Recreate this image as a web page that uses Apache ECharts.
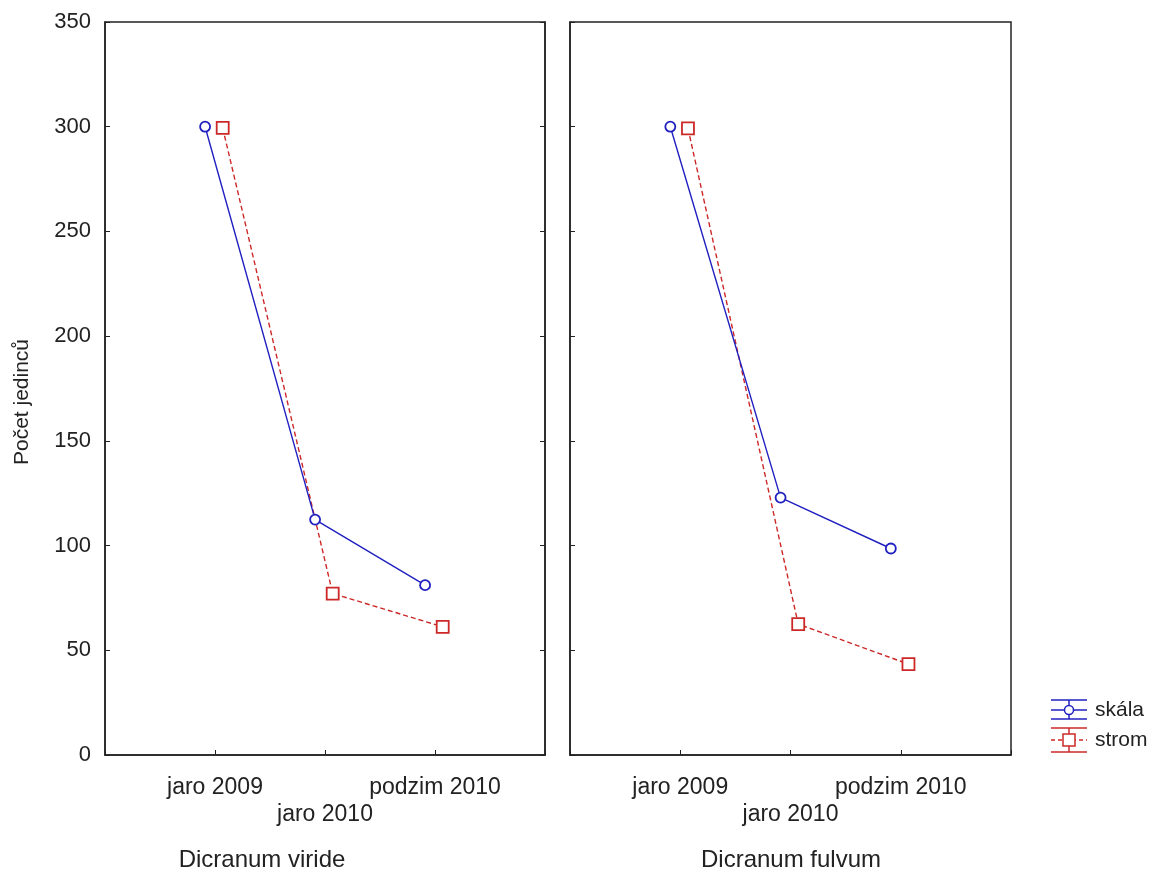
<!DOCTYPE html>
<html><head><meta charset="utf-8">
<script src="https://cdn.jsdelivr.net/npm/echarts@6/dist/echarts.min.js"></script>
<style>html,body{margin:0;padding:0;background:#fff}#c{width:1165px;height:877px}</style>
</head><body><div id="c"></div>
<script>
const categories = ['jaro 2009', 'jaro 2010', 'podzim 2010'];
const yTicks = [0, 50, 100, 150, 200, 250, 300, 350];
const panelTitles = ['Dicranum viride', 'Dicranum fulvum'];
const seriesNames = ['skála', 'strom'];
const viride_skala = [300, 112.4, 81.1];
const viride_strom = [299.4, 77.1, 61.2];
const fulvum_skala = [300, 122.9, 98.6];
const fulvum_strom = [299.2, 62.5, 43.4];

const FONT = '"Liberation Sans", Arial, sans-serif';
const BLUE = '#2020c0';
const RED = '#cc2828';
const offSkala = -0.09, offStrom = 0.07;

function pts(vals, off) { return vals.map((v, i) => [i + off, v]); }

const xLabel = {
  fontFamily: FONT, fontSize: 23, color: '#222', margin: 19, lineHeight: 27,
  formatter: function (v) {
    const i = Math.round(v);
    if (Math.abs(v - i) > 1e-6 || i < 0 || i >= categories.length) return '';
    return i % 2 === 1 ? '\n' + categories[i] : categories[i];
  }
};
function xAx(g) {
  return {
    type: 'value', gridIndex: g, min: -1, max: 3, interval: 1,
    axisLine: { show: true, onZero: false, lineStyle: { color: '#222', width: 1.5 } },
    axisTick: { show: true, inside: true, length: 5, lineStyle: { color: '#222' } },
    axisLabel: xLabel, splitLine: { show: false }
  };
}
function yAx(g, pos, labels) {
  return {
    type: 'value', gridIndex: g, position: pos, min: 0, max: 350, interval: 50,
    axisLine: { show: true, onZero: false, lineStyle: { color: '#222', width: 1.5 } },
    axisTick: { show: true, inside: true, length: 5, lineStyle: { color: '#222' } },
    axisLabel: { show: labels, fontFamily: FONT, fontSize: 22, color: '#222', margin: 14,
      formatter: function (v) { return yTicks.indexOf(v) >= 0 ? String(v) : ''; } },
    splitLine: { show: false }
  };
}
function lineSeries(name, data, xi, yi, isRed) {
  return {
    name: name, type: 'line', xAxisIndex: xi, yAxisIndex: yi, data: data,
    symbol: isRed ? 'rect' : 'circle', symbolSize: isRed ? 12 : 10,
    lineStyle: { color: isRed ? RED : BLUE, width: 1.4, type: isRed ? [5, 3] : 'solid' },
    itemStyle: { color: '#fff', borderColor: isRed ? RED : BLUE, borderWidth: 1.8 },
    animation: false, z: isRed ? 3 : 4
  };
}

const chart = echarts.init(document.getElementById('c'));
chart.setOption({
  backgroundColor: '#fff',
  animation: false,
  grid: [
    { left: 105, top: 22, width: 440, height: 733, show: true, borderColor: '#222', borderWidth: 1.5, backgroundColor: 'transparent' },
    { left: 570, top: 22, width: 441, height: 733, show: true, borderColor: '#222', borderWidth: 1.5, backgroundColor: 'transparent' }
  ],
  xAxis: [xAx(0), xAx(1)],
  yAxis: [yAx(0, 'left', true), yAx(0, 'right', false), yAx(1, 'left', false)],
  series: [
    lineSeries(seriesNames[0], pts(viride_skala, offSkala), 0, 0, false),
    lineSeries(seriesNames[1], pts(viride_strom, offStrom), 0, 0, true),
    lineSeries(seriesNames[0], pts(fulvum_skala, offSkala), 1, 2, false),
    lineSeries(seriesNames[1], pts(fulvum_strom, offStrom), 1, 2, true)
  ],
  graphic: [
    { type: 'text', x: 22, y: 402, rotation: Math.PI / 2,
      style: { text: 'Počet jedinců', font: '21px ' + FONT, fill: '#222', textAlign: 'center', textVerticalAlign: 'middle' } },
    { type: 'text', x: 262, y: 860, style: { text: panelTitles[0], font: '24px ' + FONT, fill: '#222', textAlign: 'center', textVerticalAlign: 'middle' } },
    { type: 'text', x: 791, y: 860, style: { text: panelTitles[1], font: '24px ' + FONT, fill: '#222', textAlign: 'center', textVerticalAlign: 'middle' } },
    // legend: skála
    { type: 'line', shape: { x1: 1051, y1: 700, x2: 1087, y2: 700 }, style: { stroke: BLUE, lineWidth: 1.5 } },
    { type: 'line', shape: { x1: 1051, y1: 719, x2: 1087, y2: 719 }, style: { stroke: BLUE, lineWidth: 1.5 } },
    { type: 'line', shape: { x1: 1069, y1: 700, x2: 1069, y2: 719 }, style: { stroke: BLUE, lineWidth: 1.5 } },
    { type: 'line', shape: { x1: 1051, y1: 710, x2: 1087, y2: 710 }, style: { stroke: BLUE, lineWidth: 1.5 } },
    { type: 'circle', shape: { cx: 1069, cy: 710, r: 4.5 }, style: { fill: '#fff', stroke: BLUE, lineWidth: 1.5 } },
    { type: 'text', x: 1095, y: 710, style: { text: seriesNames[0], font: '21px ' + FONT, fill: '#222', textVerticalAlign: 'middle' } },
    // legend: strom
    { type: 'line', shape: { x1: 1051, y1: 728, x2: 1087, y2: 728 }, style: { stroke: RED, lineWidth: 1.5 } },
    { type: 'line', shape: { x1: 1051, y1: 752, x2: 1087, y2: 752 }, style: { stroke: RED, lineWidth: 1.5 } },
    { type: 'line', shape: { x1: 1069, y1: 728, x2: 1069, y2: 752 }, style: { stroke: RED, lineWidth: 1.5 } },
    { type: 'line', shape: { x1: 1051, y1: 740, x2: 1087, y2: 740 }, style: { stroke: RED, lineWidth: 1.5, lineDash: [4, 3] } },
    { type: 'rect', shape: { x: 1063, y: 734, width: 12, height: 12 }, style: { fill: '#fff', stroke: RED, lineWidth: 1.5 } },
    { type: 'text', x: 1095, y: 740, style: { text: seriesNames[1], font: '21px ' + FONT, fill: '#222', textVerticalAlign: 'middle' } }
  ]
});
</script>
</body></html>
